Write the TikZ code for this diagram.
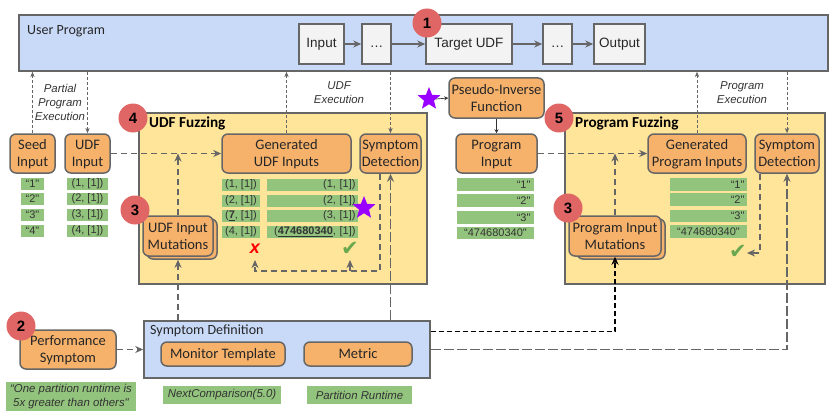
\documentclass[tikz,border=0pt]{standalone}
\usepackage{fontspec}
\setmainfont{Carlito}
\newfontfamily\arialface{Liberation Sans}
\newfontfamily\symbolface{DejaVu Sans}
\usetikzlibrary{arrows.meta,shapes.geometric}
\definecolor{edgegray}{HTML}{666666}
\definecolor{orangefill}{HTML}{F6B26B}
\definecolor{bluefill}{HTML}{C9DAF8}
\definecolor{yellowfill}{HTML}{FFE599}
\definecolor{greenfill}{HTML}{93C47D}
\definecolor{redfill}{HTML}{E06666}
\definecolor{lightfill}{HTML}{F3F3F3}
\definecolor{starfill}{HTML}{9900FF}
\definecolor{checkgreen}{HTML}{6AA84F}
% centred lines set slightly below the box middle, without changing the box size
\newcommand{\boxlines}[2][1.5pt]{\raisebox{-#1}[\height][\depth]{\begin{tabular}{@{}c@{}}#2\end{tabular}}}
\tikzset{
  panel/.style={draw=edgegray,line width=1.5pt,fill=#1,inner sep=0pt},
  stage/.style={draw=edgegray,line width=1.5pt,fill=lightfill,inner sep=0pt,font=\arialface\fontsize{13.5}{15}\selectfont,text=black!85},
  orangebox/.style={draw=edgegray,line width=1.5pt,fill=orangefill,rounded corners=6pt,inner sep=0pt,font=\fontsize{14.5}{17}\selectfont,text=black!85},
  chip/.style={fill=greenfill,inner sep=0pt,font=\arialface\fontsize{11}{12}\selectfont,text=black!80},
  chipnote/.style={chip,font=\arialface\itshape\fontsize{11.4}{14}\selectfont,align=center},
  tagtext/.style={font=\arialface\itshape\fontsize{11.4}{14}\selectfont,text=black!80,align=center,inner sep=0pt},
  badge/.style={circle,fill=redfill,minimum size=29pt,inner sep=0pt,font=\arialface\bfseries\fontsize{15}{15}\selectfont},
  heading/.style={font=\bfseries\fontsize{15.2}{16}\selectfont,inner sep=0pt,anchor=west},
  paneltitle/.style={inner sep=0pt,anchor=west,font=\fontsize{14}{15}\selectfont,text=black!85},
  mark star/.style={star,star points=5,star point ratio=2.3,fill=starfill,minimum size=24pt,inner sep=0pt},
  thin link/.style={draw=edgegray,line width=.7pt,dash pattern=on 3pt off 2pt,-{Stealth[length=5pt,width=4pt,inset=1pt]}},
  flow/.style={draw=edgegray,line width=1.2pt,dash pattern=on 6pt off 4pt,-{Stealth[length=8pt,width=7pt,inset=2.5pt]}},
  long flow/.style={flow,dash pattern=on 10pt off 3pt},
  solid flow/.style={draw=edgegray,line width=1.2pt,-{Stealth[length=8pt,width=7pt,inset=2.5pt]}},
}
\begin{document}
\begin{tikzpicture}[x=1pt,y=-1pt]
\useasboundingbox (0,0) rectangle (830,420);

% outer panels
\node[panel=bluefill,minimum width=809pt,minimum height=56pt] (user) at (423.5,43) {};
\node[panel=yellowfill,minimum width=288pt,minimum height=171pt] (udffuzz) at (283,198.5) {};
\node[panel=yellowfill,minimum width=260pt,minimum height=171pt] (progfuzz) at (695,198.5) {};
\node[panel=bluefill,minimum width=286pt,minimum height=57pt] (symdef) at (287,349.5) {};

\node[paneltitle] (usertitle) at (27,31.5) {User Program};
\node[heading] (udftitle) at (149,123.5) {UDF Fuzzing};
\node[heading] (progtitle) at (575,123.5) {Program Fuzzing};
\node[paneltitle] (symtitle) at (150,330.5) {Symptom Definition};

% program pipeline
\node[stage,minimum width=45pt,minimum height=40pt] (input) at (321.5,44) {\boxlines[1pt]{Input}};
\node[stage,minimum width=29pt,minimum height=40pt] (dotsa) at (376.5,44) {\boxlines[1pt]{…}};
\node[stage,minimum width=86pt,minimum height=40pt] (target) at (469,44) {\boxlines[1pt]{Target UDF}};
\node[stage,minimum width=29pt,minimum height=40pt] (dotsb) at (557.5,44) {\boxlines[1pt]{…}};
\node[stage,minimum width=51pt,minimum height=40pt] (output) at (619.5,44) {\boxlines[1pt]{Output}};
\draw[solid flow] (input) -- (dotsa);
\draw[solid flow] (dotsa) -- (target);
\draw[solid flow] (target) -- (dotsb);
\draw[solid flow] (dotsb) -- (output);

% orange boxes
\node[orangebox,minimum width=45pt,minimum height=39pt] (seed) at (32.5,153.5) {\boxlines{Seed\\Input}};
\node[orangebox,minimum width=45pt,minimum height=39pt] (udfin) at (87.5,153.5) {\boxlines{UDF\\Input}};
\node[orangebox,minimum width=129pt,minimum height=39pt] (genudf) at (286.5,153.5) {\boxlines{Generated\\UDF Inputs}};
\node[orangebox,minimum width=61pt,minimum height=39pt] (detudf) at (390.5,153.5) {\boxlines{Symptom\\Detection}};
\node[orangebox,minimum width=95pt,minimum height=40pt] (pseudo) at (496.5,98) {\boxlines{Pseudo-Inverse\\Function}};
\node[orangebox,minimum width=81pt,minimum height=39pt] (progin) at (496.5,153.5) {\boxlines{Program\\Input}};
\node[orangebox,minimum width=98pt,minimum height=39pt] (genprog) at (697,153.5) {\boxlines{Generated\\Program Inputs}};
\node[orangebox,minimum width=64pt,minimum height=39pt] (detprog) at (787,153.5) {\boxlines{Symptom\\Detection}};
\node[orangebox,minimum width=70pt,minimum height=40pt] (udfmutb) at (182,239) {};
\node[orangebox,minimum width=70pt,minimum height=40pt] (udfmut) at (178,236) {\boxlines{UDF Input\\Mutations}};
\node[orangebox,minimum width=88pt,minimum height=40pt] (progmutb) at (621,239) {};
\node[orangebox,minimum width=92pt,minimum height=40pt] (progmut) at (615,236) {\boxlines{Program Input\\Mutations}};
\node[orangebox,minimum width=96pt,minimum height=39pt] (perf) at (68,349.5) {\boxlines{Performance\\Symptom}};
\node[orangebox,minimum width=124pt,minimum height=24pt] (monitor) at (223,354) {\boxlines{Monitor Template}};
\node[orangebox,minimum width=108pt,minimum height=24pt] (metric) at (358,354) {\boxlines{Metric}};

% sample values under the inputs
\node[chip,minimum width=23pt,minimum height=12pt] (sa) at (32.5,184) {“1"};
\node[chip,minimum width=23pt,minimum height=12pt] (sb) at (32.5,199) {“2"};
\node[chip,minimum width=23pt,minimum height=12pt] (sc) at (32.5,215) {“3"};
\node[chip,minimum width=23pt,minimum height=12pt] (sd) at (32.5,230.5) {“4"};
\node[chip,minimum width=41pt,minimum height=12pt] (ua) at (87.5,184) {(1, [1])};
\node[chip,minimum width=41pt,minimum height=12pt] (ub) at (87.5,199) {(2, [1])};
\node[chip,minimum width=41pt,minimum height=12pt] (uc) at (87.5,215) {(3, [1])};
\node[chip,minimum width=41pt,minimum height=12pt] (ud) at (87.5,230.5) {(4, [1])};

% generated UDF inputs, two columns
\node[chip,minimum width=38pt,minimum height=12pt] (ga) at (241,185) {(1, [1])};
\node[chip,minimum width=38pt,minimum height=12pt] (gb) at (241,200.5) {(2, [1])};
\node[chip,minimum width=38pt,minimum height=12pt] (gc) at (241,216) {(\textbf{\underline{7}}, [1])};
\node[chip,minimum width=38pt,minimum height=12pt] (gd) at (241,231.5) {(4, [1])};
\node[chip,minimum height=12pt,text width=86pt,inner xsep=2.5pt,align=right] (ha) at (312.5,185) {(1, [1])};
\node[chip,minimum height=12pt,text width=86pt,inner xsep=2.5pt,align=right] (hb) at (312.5,200.5) {(2, [1])};
\node[chip,minimum height=12pt,text width=86pt,inner xsep=2.5pt,align=right] (hc) at (312.5,216) {(3, [1])};
\node[chip,minimum height=12pt,text width=86pt,inner xsep=2.5pt,align=right] (hd) at (312.5,231.5) {(\textbf{\underline{474680340}}, [1])};

% program inputs
\node[chip,minimum height=13pt,text width=70pt,inner xsep=3.5pt,align=right] (pa) at (495.5,184.5) {“1"};
\node[chip,minimum height=13pt,text width=70pt,inner xsep=3.5pt,align=right] (pb) at (495.5,200.5) {“2"};
\node[chip,minimum height=13pt,text width=70pt,inner xsep=3.5pt,align=right] (pc) at (495.5,217.5) {“3"};
\node[chip,minimum height=12pt,text width=77pt,align=center] (pd) at (495.5,232.5) {“474680340"};

% generated program inputs
\node[chip,minimum height=13pt,text width=72pt,inner xsep=2.5pt,align=right] (qa) at (708.5,184.5) {“1"};
\node[chip,minimum height=13pt,text width=72pt,inner xsep=2.5pt,align=right] (qb) at (708.5,199.5) {“2"};
\node[chip,minimum height=12pt,text width=72pt,inner xsep=2.5pt,align=right] (qc) at (708.5,216) {“3"};
\node[chip,minimum height=13pt,text width=77pt,align=center] (qd) at (708.5,231.5) {“474680340"};

% notes under the symptom boxes
\node[chipnote,minimum width=130pt,minimum height=29pt] (note) at (71,396.5) {“One partition runtime is\\5x greater than others"};
\node[chipnote,minimum width=118pt,minimum height=18pt] (nextcmp) at (222,395) {NextComparison(5.0)};
\node[chipnote,minimum width=105pt,minimum height=18pt] (runtime) at (359.5,395) {Partition Runtime};

% execution labels
\node[tagtext] (partial) at (60,102.5) {Partial\\Program\\Execution};
\node[tagtext] (udfexec) at (339,93) {UDF\\Execution};
\node[tagtext] (progexec) at (742,93) {Program\\Execution};

% outcome marks
\node[inner sep=0pt,text=red,font=\arialface\bfseries\itshape\fontsize{18}{18}\selectfont] (fail) at (255,249) {x};
\node[inner sep=0pt,text=checkgreen,font=\symbolface\fontsize{21}{21}\selectfont] (okudf) at (350,249) {✔};
\node[inner sep=0pt,text=checkgreen,font=\symbolface\fontsize{21}{21}\selectfont] (okprog) at (738,252) {✔};
\node[mark star] (staru) at (364,208) {};
\node[mark star] (starp) at (429,99) {};

% links to the user program
\draw[thin link] (seed.north) -- (seed.north |- user.south);
\draw[thin link] (udfin.north |- user.south) -- (udfin.north);
\draw[thin link] (genudf.north) -- (genudf.north |- user.south);
\draw[thin link] (detudf.north |- user.south) -- (detudf.north);
\draw[thin link] (genprog.north) -- (genprog.north |- user.south);
\draw[thin link] (detprog.north |- user.south) -- (detprog.north);

% pseudo-inverse
\draw[draw=black!80,line width=.7pt,-{Stealth[length=4pt,width=4pt]}] (starp.east) -- (pseudo.west);
\draw[draw=black!80,line width=.7pt,-{Stealth[length=4pt,width=4pt]}] (pseudo.south) -- (progin.north);

% fuzzing flows
\draw[flow] (udfin.east) -- (genudf.west);
\draw[flow] (udfmut.north) -- (udfmut.north |- genudf.west);
\draw[flow] (progin.east) -- (genprog.west);
\draw[flow] (progmut.north) -- (progmut.north |- genprog.west);

% symptom detection feedback
\coordinate (fbcorner) at (380,271);
\draw[flow] (detudf.south -| fbcorner) -- (fbcorner) -- (fail.center |- fbcorner) -- ++(0,-11);
\draw[flow] (okudf.center |- fbcorner) -- ++(0,-11);
\coordinate (fbprog) at (760,253);
\draw[flow] (detprog.south -| fbprog) -- (fbprog) -- (okprog.east |- fbprog);

% symptom definition feeds the fuzzers
\draw[flow] (perf.east) -- (symdef.west);
\draw[flow] (symdef.north -| udfmut.south) -- (udfmutb.south -| udfmut.south);
\draw[long flow] (symdef.north -| detudf.south) -- (detudf.south);
\coordinate (progturn) at (progmut.south |- 0,331.5);
\draw[draw=black,line width=1.2pt,dash pattern=on 5pt off 3pt,-{Stealth[length=8pt,width=7pt,inset=2.5pt]}] (symdef.east |- progturn) -- (progturn) -- (progmut.south);
\coordinate (detturn) at (detprog.south |- 0,349.5);
\draw[long flow] (symdef.east) -- (detturn) -- (detprog.south);

% numbered badges
\node[badge] (one) at (427,23) {1};
\node[badge] (two) at (21,326) {2};
\node[badge] (threea) at (135,210) {3};
\node[badge] (threeb) at (568,208) {3};
\node[badge] (four) at (133,118) {4};
\node[badge] (five) at (559,118) {5};
\end{tikzpicture}
\end{document}
